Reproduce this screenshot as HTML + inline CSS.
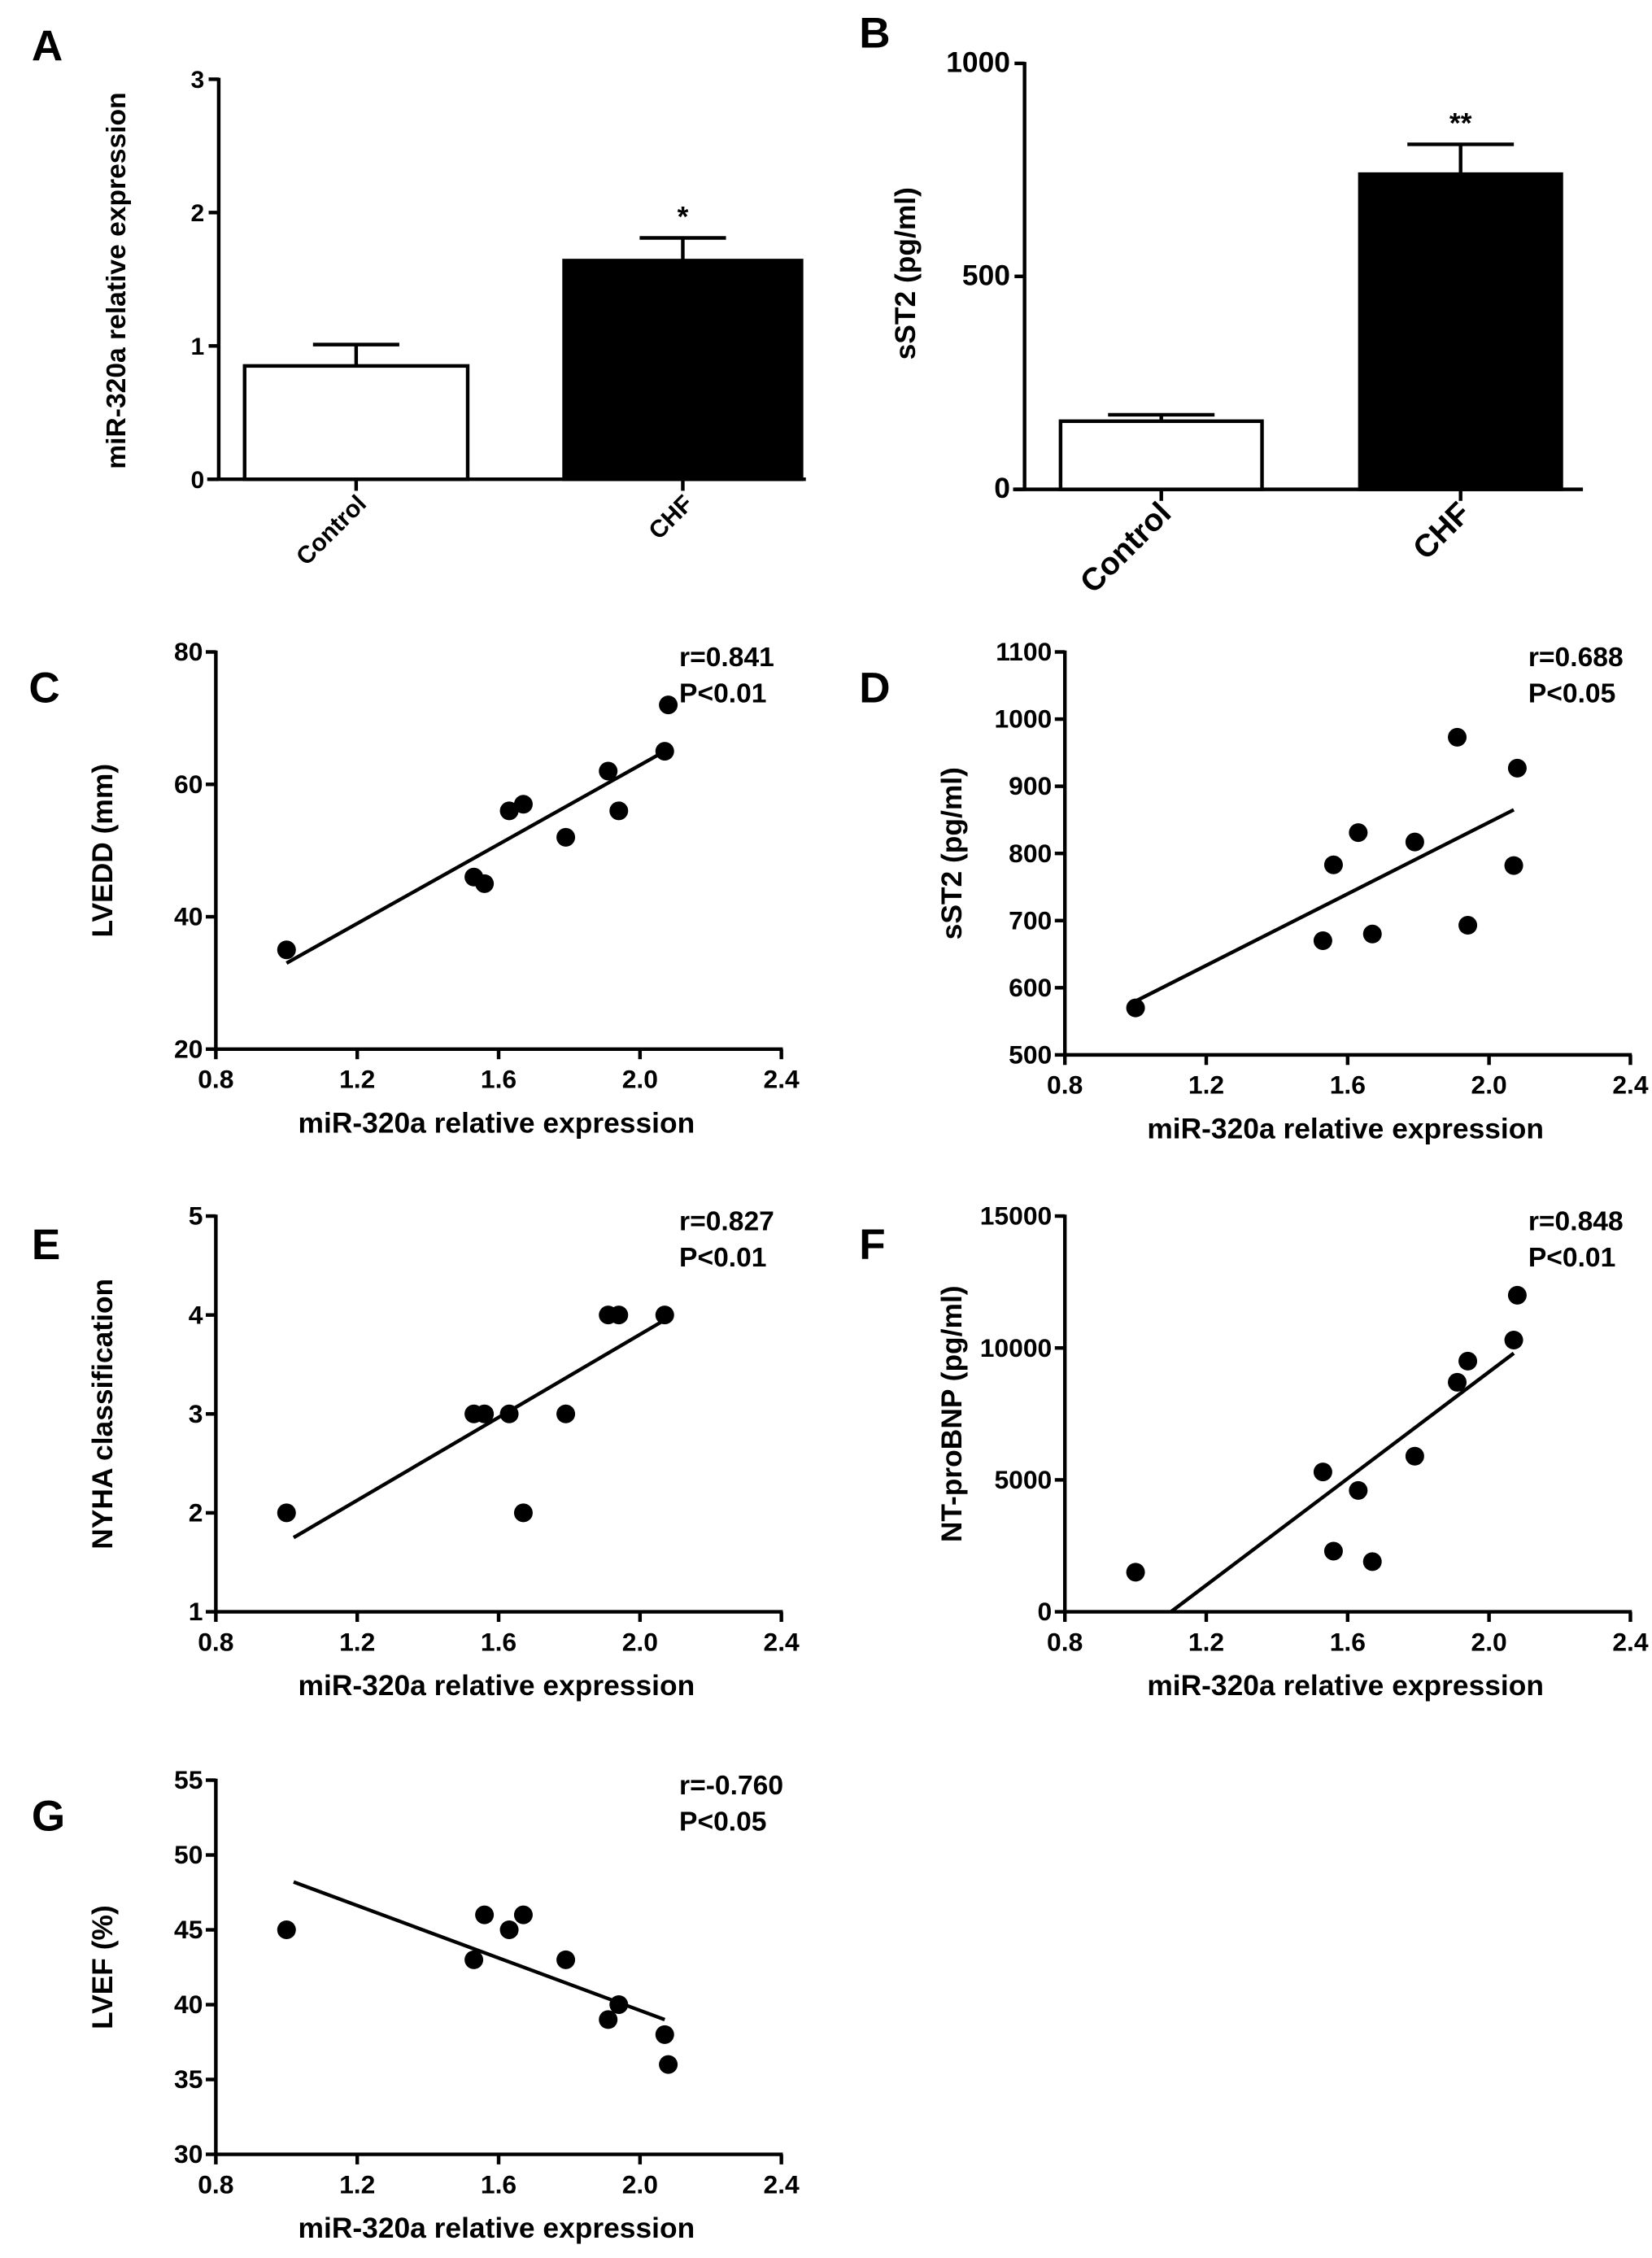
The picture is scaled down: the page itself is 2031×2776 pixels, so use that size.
<!DOCTYPE html>
<html><head><meta charset="utf-8">
<style>
html,body{margin:0;padding:0;background:#fff;}
svg{display:block;font-family:"Liberation Sans",Arial,sans-serif;font-weight:bold;}
</style></head>
<body>
<svg id="fig" width="2031" height="2776" viewBox="0 0 1148 1569" xmlns="http://www.w3.org/2000/svg"></svg>
<script>
// Panel A data
const aCategories = ["Control", "CHF"];
const aMeans = [0.85, 1.64];
const aErrors = [0.16, 0.17];
const aTicks = [0, 1, 2, 3];
// Panel B data
const bCategories = ["Control", "CHF"];
const bMeans = [160, 740];
const bErrors = [15, 70];
const bTicks = [0, 500, 1000];
// Shared x (miR-320a)
const xVals = [1.0, 1.53, 1.56, 1.63, 1.67, 1.79, 1.91, 1.94, 2.07, 2.08];
const xTicks = ["0.8", "1.2", "1.6", "2.0", "2.4"];
// Panel C
const cY = [35, 46, 45, 56, 57, 52, 62, 56, 65, 72];
const cTicks = [20, 40, 60, 80];
const cFit = [[1.0, 33], [2.07, 65]];
// Panel D
const dY = [570, 670, 783, 831, 680, 817, 973, 693, 782, 927];
const dTicks = [500, 600, 700, 800, 900, 1000, 1100];
const dFit = [[1.0, 580], [2.07, 865]];
// Panel E
const eX = [1.0, 1.53, 1.56, 1.63, 1.67, 1.79, 1.91, 1.94, 2.07];
const eY = [2, 3, 3, 3, 2, 3, 4, 4, 4];
const eTicks = [1, 2, 3, 4, 5];
const eFit = [[1.02, 1.75], [2.07, 3.95]];
// Panel F
const fY = [1500, 5300, 2300, 4600, 1900, 5900, 8700, 9500, 10300, 12000];
const fTicks = [0, 5000, 10000, 15000];
const fFit = [[1.10, 0], [2.07, 9800]];
// Panel G
const gY = [45, 43, 46, 45, 46, 43, 39, 40, 38, 36];
const gTicks = [30, 35, 40, 45, 50, 55];
const gFit = [[1.02, 48.2], [2.07, 39]];

const NS = "http://www.w3.org/2000/svg";
const svg = document.getElementById("fig");
function el(tag, attrs, parent, text) {
  const e = document.createElementNS(NS, tag);
  for (const k in attrs) e.setAttribute(k, attrs[k]);
  if (text !== undefined) e.textContent = text;
  (parent || svg).appendChild(e);
  return e;
}
function lin(d0, d1, r0, r1) { return v => r0 + (v - d0) * (r1 - r0) / (d1 - d0); }

function barPanel(o) {
  const g = el("g", {});
  
  
  const y = lin(o.ticks[0], o.ticks[o.ticks.length - 1], o.y0, o.y1);
  const L = el("text", { x: o.letterX, y: o.letterY, "font-size": 30 }, g, o.letter);
  
  
  el("line", { x1: o.ax, y1: o.y1 - 1, x2: o.ax, y2: o.y0, stroke: "#000", "stroke-width": 2.5 }, g);
  el("line", { x1: o.ax - 8, y1: o.y0, x2: o.axEnd, y2: o.y0, stroke: "#000", "stroke-width": 2.5 }, g);
  o.ticks.forEach(t => {
    el("line", { x1: o.ax - 7, y1: y(t), x2: o.ax, y2: y(t), stroke: "#000", "stroke-width": 2.5 }, g);
    const tl = el("text", { x: o.ax - 10, y: y(t) + 6, "font-size": o.tickFont, "text-anchor": "end" }, g, String(t));
    
    
  });
  o.cats.forEach((c, i) => {
    const [bx0, bx1] = o.bars[i];
    const cx = (bx0 + bx1) / 2;
    const top = y(o.means[i]);
    const et = y(o.means[i] + o.errs[i]);
    el("line", { x1: cx, y1: top, x2: cx, y2: et, stroke: "#000", "stroke-width": 2.5 }, g);
    el("line", { x1: cx - o.cap, y1: et, x2: cx + o.cap, y2: et, stroke: "#000", "stroke-width": 2.5 }, g);
    const r = el("rect", { x: bx0, y: top, width: bx1 - bx0, height: o.y0 - top, fill: i === 0 ? "#fff" : "#000", stroke: "#000", "stroke-width": 2.5 }, g);
    
    
    el("line", { x1: cx, y1: o.y0, x2: cx, y2: o.y0 + 8, stroke: "#000", "stroke-width": 2.5 }, g);
    const lbl = el("text", { x: cx + 8, y: o.y0 + 18, "font-size": o.catFont, "text-anchor": "end", transform: `rotate(-45 ${cx + 8} ${o.y0 + 18})` }, g, c);
    
    
    if (o.sig[i]) {
      const s = el("text", { x: cx, y: et - 8, "font-size": 20, "text-anchor": "middle" }, g, o.sig[i]);
      
      
    }
  });
  const yt = el("text", { x: o.ytX, y: o.ytY, "font-size": o.ytFont, "text-anchor": "middle", transform: `rotate(-90 ${o.ytX} ${o.ytY})` }, g, o.ytitle);
  
  
}

function scatterPanel(o) {
  const g = el("g", {});
  
  
  const x = lin(0.8, 2.4, o.ax, o.ax + 393);
  const y = lin(o.ticks[0], o.ticks[o.ticks.length - 1], o.y0, o.y1);
  const L = el("text", { x: o.letterX, y: o.letterY, "font-size": 30 }, g, o.letter);
  
  
  el("line", { x1: o.ax, y1: o.y1 - 1, x2: o.ax, y2: o.y0 + 1, stroke: "#000", "stroke-width": 2.5 }, g);
  el("line", { x1: o.ax - 1, y1: o.y0, x2: o.ax + 394, y2: o.y0, stroke: "#000", "stroke-width": 2.5 }, g);
  o.ticks.forEach(t => {
    el("line", { x1: o.ax - 7, y1: y(t), x2: o.ax, y2: y(t), stroke: "#000", "stroke-width": 2.5 }, g);
    const tl = el("text", { x: o.ax - 9, y: y(t) + 6, "font-size": 18, "text-anchor": "end" }, g, String(t));
    
    
  });
  xTicks.forEach(t => {
    const xx = x(parseFloat(t));
    el("line", { x1: xx, y1: o.y0, x2: xx, y2: o.y0 + 7, stroke: "#000", "stroke-width": 2.5 }, g);
    const tl = el("text", { x: xx, y: o.y0 + 27, "font-size": 18, "text-anchor": "middle" }, g, t);
    
    
  });
  const fit = el("line", { x1: x(o.fit[0][0]), y1: y(o.fit[0][1]), x2: x(o.fit[1][0]), y2: y(o.fit[1][1]), stroke: "#000", "stroke-width": 2.5 }, g);
  
  
  o.ys.forEach((v, i) => {
    const c = el("circle", { cx: x(o.xs[i]), cy: y(v), r: 6.5, fill: "#000" }, g);
    
    
  });
  const xt = el("text", { x: o.ax + 195, y: o.y0 + 58, "font-size": 20, "text-anchor": "middle" }, g, "miR-320a relative expression");
  
  
  const ytx = o.ax - 72, yty = (o.y0 + o.y1) / 2;
  const yt = el("text", { x: ytx, y: yty, "font-size": 20, "text-anchor": "middle", transform: `rotate(-90 ${ytx} ${yty})` }, g, o.ytitle);
  
  
  const r1 = el("text", { x: o.ax + 322, y: o.y1 + 10, "font-size": 19 }, g, o.r);
  
  
  const p1 = el("text", { x: o.ax + 322, y: o.y1 + 35, "font-size": 19 }, g, o.p);
  
  
}

barPanel({ name: "panel-a", letter: "A", letterX: 22, letterY: 42, ax: 152, axEnd: 560, y0: 333, y1: 55,
  ticks: aTicks, cats: aCategories, means: aMeans, errs: aErrors, bars: [[170, 325], [392, 557]], cap: 30,
  sig: ["", "*"], tickFont: 17, catFont: 17, ytitle: "miR-320a relative expression", ytX: 87, ytY: 195, ytFont: 19 });
barPanel({ name: "panel-b", letter: "B", letterX: 597, letterY: 33, ax: 712, axEnd: 1100, y0: 340, y1: 44,
  ticks: bTicks, cats: bCategories, means: bMeans, errs: bErrors, bars: [[737, 877], [945, 1085]], cap: 37,
  sig: ["", "**"], tickFont: 20, catFont: 22, ytitle: "sST2 (pg/ml)", ytX: 636, ytY: 190, ytFont: 20 });

scatterPanel({ name: "panel-c", letter: "C", letterX: 20, letterY: 488, ax: 150, y0: 729, y1: 453,
  ticks: cTicks, xs: xVals, ys: cY, fit: cFit, ytitle: "LVEDD (mm)", r: "r=0.841", p: "P<0.01" });
scatterPanel({ name: "panel-d", letter: "D", letterX: 597, letterY: 488, ax: 740, y0: 733, y1: 453,
  ticks: dTicks, xs: xVals, ys: dY, fit: dFit, ytitle: "sST2 (pg/ml)", r: "r=0.688", p: "P<0.05" });
scatterPanel({ name: "panel-e", letter: "E", letterX: 22, letterY: 875, ax: 150, y0: 1120, y1: 845,
  ticks: eTicks, xs: eX, ys: eY, fit: eFit, ytitle: "NYHA classification", r: "r=0.827", p: "P<0.01" });
scatterPanel({ name: "panel-f", letter: "F", letterX: 597, letterY: 875, ax: 740, y0: 1120, y1: 845,
  ticks: fTicks, xs: xVals, ys: fY, fit: fFit, ytitle: "NT-proBNP (pg/ml)", r: "r=0.848", p: "P<0.01" });
scatterPanel({ name: "panel-g", letter: "G", letterX: 22, letterY: 1272, ax: 150, y0: 1497, y1: 1237,
  ticks: gTicks, xs: xVals, ys: gY, fit: gFit, ytitle: "LVEF (%)", r: "r=-0.760", p: "P<0.05" });
</script>
</body></html>
